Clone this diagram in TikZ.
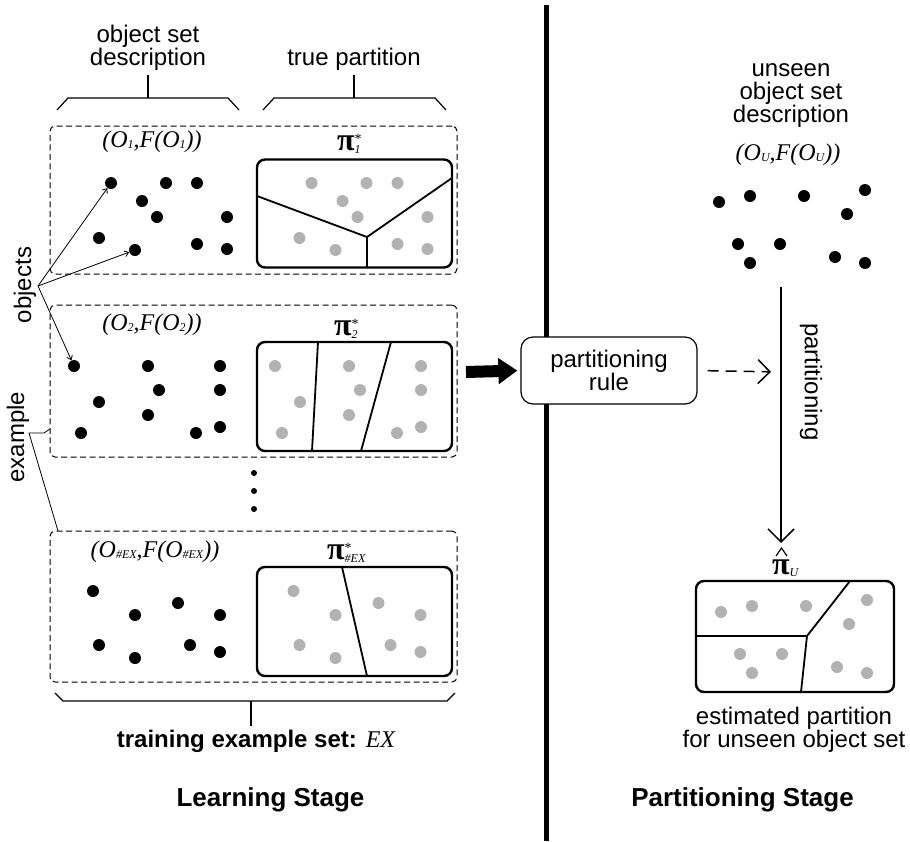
\documentclass[tikz,border=0pt]{standalone}
\usepackage{fontspec}
\setmainfont{Liberation Sans}
\newfontfamily\tms{Liberation Serif}
\usetikzlibrary{arrows.meta,calc}
\definecolor{dotgray}{gray}{0.7}
\newcommand{\SbT}[1]{\raisebox{-1.5pt}{\fontsize{12}{12}\selectfont #1}}
\newcommand{\OLab}[1]{{\tms\itshape\fontsize{24}{24}\selectfont (O\SbT{#1},F(O\SbT{#1}))}}
\newcommand{\PiLab}[1]{{\tms\bfseries\fontsize{32}{32}\selectfont π}\rlap{\raisebox{6.5pt}{\tms\fontsize{14}{14}\selectfont *}}\raisebox{-3pt}{\tms\itshape\fontsize{12}{12}\selectfont #1}}
\begin{document}
\begin{tikzpicture}[x=1pt,y=-1pt,
  lbl/.style={font=\fontsize{24}{23}\selectfont, align=center, inner sep=0pt},
  blbl/.style={font=\bfseries\fontsize{24}{24}\selectfont, inner sep=0pt},
  stage/.style={font=\bfseries\fontsize{26}{26}\selectfont, inner sep=0pt},
  mlbl/.style={inner sep=0pt},
  exbox/.style={draw, line width=1pt, dash pattern=on 6pt off 3.5pt, rounded corners=5pt, minimum width=407pt, inner sep=0pt},
  partbox/.style={draw, line width=2.4pt, rounded corners=8pt, minimum width=195pt, minimum height=108pt, inner sep=0pt},
  pline/.style={line width=1.8pt},
  bdot/.style={circle, fill=black, minimum size=12pt, inner sep=0pt},
  gdot/.style={circle, fill=dotgray, minimum size=12pt, inner sep=0pt},
  sdot/.style={circle, fill=black, minimum size=6pt, inner sep=0pt},
  brace/.style={line width=1.2pt},
  objarrow/.style={line width=0.8pt, -{Straight Barb[length=4pt,width=6pt]}},
  rulebox/.style={draw, line width=1.2pt, rounded corners=12pt, fill=white, minimum width=176pt, minimum height=67pt},
]
\useasboundingbox (0,0) rectangle (910,841);

% separator
\draw[line width=5pt] (546,5) -- (546,841);

% top labels and braces
\node[lbl] (osd) at (148,48) {object set\\description};
\node[lbl, anchor=base] (tp) at (354,65) {true partition};
\draw[brace] (57,110) -- (68,98) -- (228,98) -- (239,110);
\draw[brace] (263,110) -- (274,98) -- (435,98) -- (446,110);
\coordinate (b1m) at (148,98); \coordinate (b1t) at (148,75);
\coordinate (b2m) at (354,98); \coordinate (b2t) at (354,75);
\draw[brace] (b1m) -- (b1t);
\draw[brace] (b2m) -- (b2t);

% example boxes
\node[exbox, minimum height=148pt] (ex1) at (253.5,200) {};
\node[exbox, minimum height=152pt] (ex2) at (253.5,381) {};
\node[exbox, minimum height=151pt] (ex3) at (253.5,606.5) {};

% partition boxes
\node[partbox] (p1) at (354.5,213.5) {};
\node[partbox, minimum height=109pt] (p2) at (354.5,396.5) {};
\node[partbox, minimum height=109pt] (p3) at (354.5,621.5) {};
\node[partbox, minimum width=198pt, minimum height=111pt] (pu) at (795,636.5) {};

% partition lines
\draw[pline] (257,196) -- (367,237) -- (452,178);
\draw[pline] (367,237) -- (367,267);
\draw[pline] (318,342) -- (312,451);
\draw[pline] (391,342) -- (361,451);
\draw[pline] (342,567) -- (367,676);
\draw[pline] (696,636) -- (807,636) -- (850,581);
\draw[pline] (807,636) -- (801,692);

% labels in examples
\node[mlbl, anchor=base] (l1) at (152,147) {\OLab{1}};
\node[mlbl, anchor=base] (l2) at (152,330) {\OLab{2}};
\node[mlbl, anchor=base] (l3) at (155,557) {\OLab{\#EX}};
\node[mlbl, anchor=base west] (pi1) at (337,150) {\PiLab{1}};
\node[mlbl, anchor=base west] (pi2) at (334,335) {\PiLab{2}};
\node[mlbl, anchor=base west] (pi3) at (327,559) {\PiLab{\#EX}};

% dots, example 1
\foreach \x/\y [count=\i] in {111/183,166/183,197/183,142/201,157/217,227/217,99/238,135/250,197/244,227/249}{
  \node[bdot] (e1b\i) at (\x,\y) {};
  \node[gdot] (e1g\i) at (\x+200.5,\y) {};
}
% dots, example 2
\foreach \x/\y [count=\i] in {74/366,148/366,220/366,159/390,220/390,99/402,148/415,81/433,196/433,220/427}{
  \node[bdot] (e2b\i) at (\x,\y) {};
  \node[gdot] (e2g\i) at (\x+201,\y) {};
}
% dots, example 3
\foreach \x/\y [count=\i] in {93/591,135/615,178/603,220/615,99/645,135/658,190/645,220/652}{
  \node[bdot] (e3b\i) at (\x,\y) {};
  \node[gdot] (e3g\i) at (\x+200.5,\y) {};
}
% vertical ellipsis
\node[sdot] (v1) at (254,473) {};
\node[sdot] (v2) at (254,491) {};
\node[sdot] (v3) at (254,509) {};

% bottom brace
\draw[brace] (55,693) -- (63,701) -- (447,701) -- (455,693);
\coordinate (b3m) at (251,701); \coordinate (b3b) at (251,726);
\draw[brace] (b3m) -- (b3b);
\node[blbl, anchor=base] (train) at (256,747) {training example set: {\tms\mdseries\itshape EX}};

% objects and example labels
\node[lbl, rotate=90] (objl) at (25,285) {objects};
\node[lbl, rotate=90] (exl) at (18,437) {example};
\coordinate (osrc) at (38,286);
\draw[objarrow] (osrc) -- (e1b1);
\draw[objarrow] (osrc) -- (e1b8);
\draw[objarrow] (osrc) -- (e2b1);
\coordinate (exa) at (50,429);
\coordinate (exb) at (44,433);
\coordinate (exc) at (29,433);
\coordinate (exd) at (58,531);
\draw[line width=0.8pt] (exa) -- (exb) -- (exc) -- (exd);

% stage titles
\node[stage, anchor=base] (ls) at (270.5,806) {Learning Stage};
\node[stage, anchor=base] (ps) at (742.5,806) {Partitioning Stage};

% right side
\node[lbl] (unseen) at (791,96) {unseen\\object set\\description};
\node[mlbl, anchor=base] (lu) at (788,160) {\OLab{U}};
\foreach \x/\y [count=\i] in {719/202,750/196,804/196,865/190,847/214,738/244,780/244,750/263,835/257,865/263}{
  \node[bdot] (ub\i) at (\x,\y) {};
  \node[gdot] (ug\i) at (\x+2,\y+410) {};
}

% partitioning rule
\node[rulebox, lbl] (rule) at (609,370.5) {partitioning\\rule};
\coordinate (tstart) at (466,372);
\draw[line width=12pt, -{Triangle[length=19pt,width=25pt]}, shorten >=3pt] (tstart) -- (rule.west);
\coordinate (ptop) at (781,287);
\coordinate (pbot) at (781,543);
\coordinate (pmid) at (781,372);
\draw[line width=1.5pt, dash pattern=on 11pt off 7pt, -{Straight Barb[length=12pt,width=24pt]}, shorten <=10pt, shorten >=10pt] (rule.east) -- (pmid);
\draw[line width=1.5pt, -{Straight Barb[length=13pt,width=26pt]}] (ptop) -- (pbot);
\node[lbl, rotate=-90] (plab) at (811,382) {partitioning};

% estimated partition label
\node[mlbl, anchor=base west] (pihat) at (772,574) {{\tms\bfseries\fontsize{32}{32}\selectfont π}\raisebox{-2.5pt}{\tms\itshape\fontsize{12}{12}\selectfont U}};
\draw[line width=1.2pt] (776,556) -- (781.5,548) -- (787,556);
\node[lbl] (est) at (794,729.5) {estimated partition\\for unseen object set};
\end{tikzpicture}
\end{document}
